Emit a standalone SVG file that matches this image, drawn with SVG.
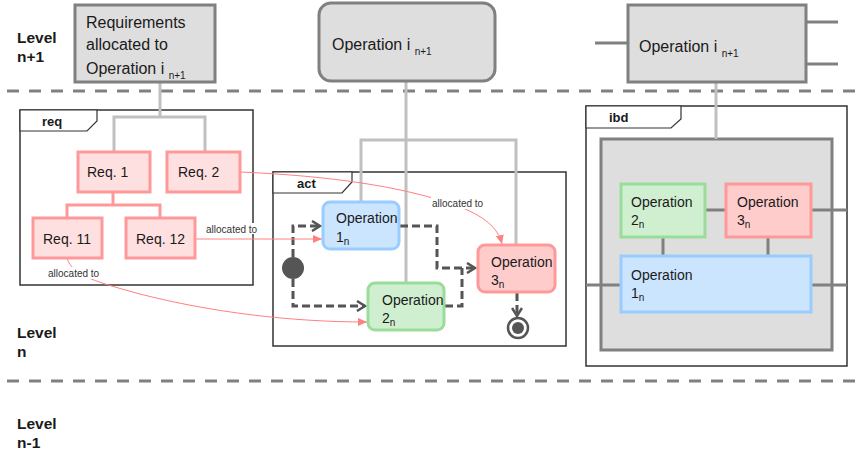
<svg xmlns="http://www.w3.org/2000/svg" width="863" height="455" viewBox="0 0 863 455">
<style>
text{font-family:"Liberation Sans",Arial,sans-serif;fill:#1a1a1a}
.lvl{font-size:15.5px;font-weight:bold}
.big{font-size:16px}
.op{font-size:14px}
.sub{font-size:10px}
.tab{font-size:13px;font-weight:bold}
.lab{font-size:10px;fill:#333}
.gbox{fill:#dedede;stroke:#808080;stroke-width:3}
.frame{fill:#fff;stroke:#333;stroke-width:1.5}
.tabs{fill:#fff;stroke:#333;stroke-width:1.2}
.req{fill:#ffe0e0;stroke:#ff9999;stroke-width:3}
.red{fill:#ffcccc;stroke:#ff9999;stroke-width:3}
.blue{fill:#cce5ff;stroke:#99ccff;stroke-width:3}
.green{fill:#d0efd0;stroke:#99dd99;stroke-width:3}
.lvlline{stroke:#808080;stroke-width:3;stroke-dasharray:12 10;fill:none}
.tree{stroke:#c0c0c0;stroke-width:3;fill:none}
.ptree{stroke:#ff9999;stroke-width:3;fill:none}
.flow{stroke:#555;stroke-width:3;stroke-dasharray:8 4;fill:none}
.alloc{stroke:#ff8080;stroke-width:1;fill:none}
.conn{stroke:#808080;stroke-width:3;fill:none}
</style>
<defs>
<marker id="open" markerWidth="12" markerHeight="12" refX="10" refY="6" orient="auto" markerUnits="userSpaceOnUse">
<path d="M2,1 L10,6 L2,11" fill="none" stroke="#555" stroke-width="2.5"/>
</marker>
<marker id="pink" markerWidth="10" markerHeight="10" refX="9" refY="5" orient="auto" markerUnits="userSpaceOnUse">
<path d="M0,1 L9,5 L0,9 Z" fill="#ff8080"/>
</marker>
</defs>
<rect width="863" height="455" fill="#fff"/>

<g id="levels">
<line class="lvlline" x1="7" y1="91" x2="863" y2="91"/>
<line class="lvlline" x1="7" y1="381" x2="863" y2="381"/>
<text class="lvl" x="17" y="43">Level</text>
<text class="lvl" x="17" y="62">n+1</text>
<text class="lvl" x="17" y="338">Level</text>
<text class="lvl" x="17" y="357">n</text>
<text class="lvl" x="17" y="429">Level</text>
<text class="lvl" x="17" y="448">n-1</text>
</g>

<g id="frame-req">
<rect class="frame" x="20" y="110" width="233" height="175"/>
<path class="tabs" d="M20,110 H97 V121 L87,131 H20 Z"/>
<text class="tab" x="42" y="126">req</text>
</g>
<g id="frame-act">
<rect class="frame" x="273" y="172" width="293" height="174"/>
<path class="tabs" d="M273,172 H352 V182 L342,193 H273 Z"/>
<text class="tab" x="297" y="188">act</text>
</g>
<g id="frame-ibd">
<rect class="frame" x="586" y="106" width="261" height="260"/>
<path class="tabs" d="M586,106 H681 V119 L671,128 H586 Z"/>
<text class="tab" x="609" y="122">ibd</text>
</g>
<g id="ibd-block"><rect class="gbox" x="601" y="139" width="231" height="211"/></g>

<g id="connectors">
<path class="tree" d="M160,82 V117 M114,152 V117 H205 V152"/>
<path class="tree" d="M406,81 V283 M361,202 V140 H516 V245"/>
<path class="tree" d="M716,82 V139"/>
<path class="ptree" d="M113,192 V205 M67,218 V205 H160 V218"/>
<path class="flow" d="M293,257 V226 H320" marker-end="url(#open)"/>
<path class="flow" d="M293,279 V306 H365" marker-end="url(#open)"/>
<path class="flow" d="M400,226 H437 V268 H475" marker-end="url(#open)"/>
<path class="flow" d="M445,306 H462 V268"/>
<path class="flow" d="M517,293 V316" marker-end="url(#open)"/>
<path class="alloc" d="M195,239 H322" marker-end="url(#pink)"/>
<path class="alloc" d="M241,172 C330,176 400,186 455,205 C485,216 498,228 502,244" marker-end="url(#pink)"/>
<path class="alloc" d="M67,258 C72,276 100,283 140,294 C210,312 290,322 367,322" marker-end="url(#pink)"/>
<line class="conn" x1="705" y1="210" x2="726" y2="210"/>
<line class="conn" x1="811" y1="210" x2="847" y2="210"/>
<line class="conn" x1="663" y1="237" x2="663" y2="256"/>
<line class="conn" x1="768" y1="237" x2="768" y2="256"/>
<line class="conn" x1="586" y1="285" x2="621" y2="285"/>
<line class="conn" x1="811" y1="285" x2="847" y2="285"/>
<line class="conn" x1="595" y1="43" x2="628" y2="43"/>
<line class="conn" x1="806" y1="22" x2="838" y2="22"/>
<line class="conn" x1="806" y1="64" x2="838" y2="64"/>
<rect x="206" y="223" width="57" height="11" fill="#fff"/>
<text class="lab" x="206" y="233">allocated to</text>
<rect x="431" y="197" width="58" height="12" fill="#fff"/>
<text class="lab" x="432" y="207">allocated to</text>
<rect x="47" y="267" width="58" height="12" fill="#fff"/>
<text class="lab" x="48" y="277">allocated to</text>
</g>

<g id="req-top">
<rect class="gbox" x="75" y="5" width="140" height="77"/>
<text class="big" x="86" y="28">Requirements</text>
<text class="big" x="86" y="50">allocated to</text>
<text class="big" x="86" y="74">Operation i <tspan class="sub" dy="5">n+1</tspan></text>
</g>
<g id="op-top-act">
<rect class="gbox" x="319" y="3" width="176" height="78" rx="12"/>
<text class="big" x="332" y="50">Operation i <tspan class="sub" dy="5">n+1</tspan></text>
</g>
<g id="op-top-ibd">
<rect class="gbox" x="628" y="5" width="178" height="77"/>
<text class="big" x="639" y="52">Operation i <tspan class="sub" dy="5">n+1</tspan></text>
</g>

<g id="req1"><rect class="req" x="78" y="152" width="72" height="40"/><text class="op" x="87" y="177">Req. 1</text></g>
<g id="req2"><rect class="req" x="167" y="152" width="73" height="40"/><text class="op" x="178" y="177">Req. 2</text></g>
<g id="req11"><rect class="req" x="33" y="218" width="69" height="40"/><text class="op" x="43" y="244">Req. 11</text></g>
<g id="req12"><rect class="req" x="126" y="218" width="69" height="40"/><text class="op" x="136" y="244">Req. 12</text></g>

<g id="act-op1"><rect class="blue" x="323" y="202" width="76" height="47" rx="7"/><text class="op" x="336" y="223">Operation</text><text class="op" x="336" y="242">1<tspan class="sub" dy="3">n</tspan></text></g>
<g id="act-op2"><rect class="green" x="368" y="283" width="76" height="47" rx="7"/><text class="op" x="382" y="305">Operation</text><text class="op" x="382" y="323">2<tspan class="sub" dy="3">n</tspan></text></g>
<g id="act-op3"><rect class="red" x="478" y="245" width="77" height="47" rx="7"/><text class="op" x="491" y="267">Operation</text><text class="op" x="491" y="285">3<tspan class="sub" dy="3">n</tspan></text></g>
<g id="initial"><circle cx="293" cy="268" r="11" fill="#555"/></g>
<g id="final"><circle cx="518" cy="328" r="10" fill="#fff" stroke="#555" stroke-width="2.5"/><circle cx="518" cy="328" r="6" fill="#555"/></g>

<g id="ibd-op2"><rect class="green" x="621" y="184" width="84" height="53"/><text class="op" x="631" y="207">Operation</text><text class="op" x="631" y="225">2<tspan class="sub" dy="3">n</tspan></text></g>
<g id="ibd-op3"><rect class="red" x="726" y="184" width="85" height="53"/><text class="op" x="737" y="207">Operation</text><text class="op" x="737" y="225">3<tspan class="sub" dy="3">n</tspan></text></g>
<g id="ibd-op1"><rect class="blue" x="621" y="256" width="190" height="56"/><text class="op" x="631" y="280">Operation</text><text class="op" x="631" y="298">1<tspan class="sub" dy="3">n</tspan></text></g>
</svg>
